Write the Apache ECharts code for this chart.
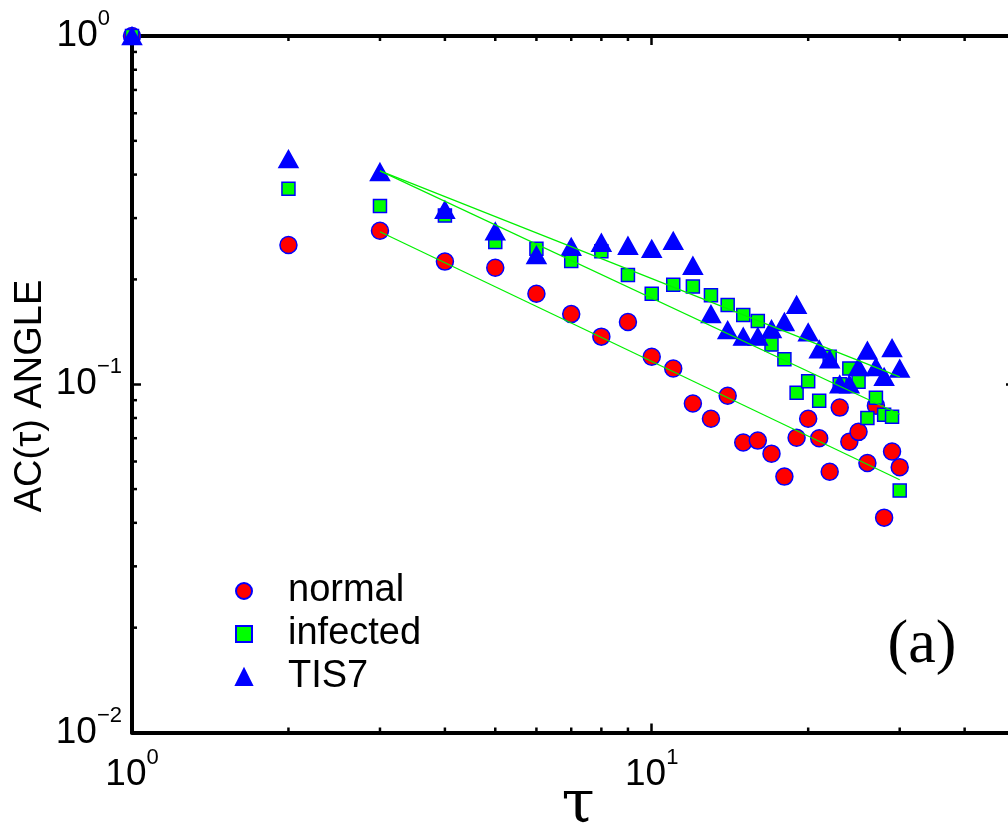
<!DOCTYPE html>
<html><head><meta charset="utf-8">
<script src="https://cdn.jsdelivr.net/npm/echarts@6/dist/echarts.min.js"></script>
<style>html,body{margin:0;padding:0;background:#fff}#c{width:1008px;height:828px}</style>
</head><body><div id="c"></div>
<script>
// ---- data ----
const tau = [1,2,3,4,5,6,7,8,9,10,11,12,13,14,15,16,17,18,19,20,21,22,23,24,25,26,27,28,29,30];
const normal = [1.0,0.251,0.276,0.225,0.216,0.182,0.159,0.137,0.151,0.120,0.111,0.088,0.0796,0.0927,0.068,0.0689,0.0632,0.0543,0.0702,0.0796,0.070,0.0561,0.0857,0.0684,0.073,0.0594,0.0868,0.0414,0.0641,0.0578];
const infected = [1.0,0.364,0.325,0.305,0.256,0.245,0.226,0.241,0.206,0.182,0.193,0.191,0.180,0.169,0.158,0.152,0.130,0.118,0.0946,0.102,0.0897,0.120,0.100,0.111,0.1016,0.080,0.0914,0.0818,0.0807,0.0495];
const tis7 = [1.0,0.443,0.407,0.317,0.275,0.235,0.248,0.255,0.250,0.245,0.258,0.219,0.159,0.143,0.137,0.137,0.144,0.151,0.169,0.141,0.126,0.118,0.100,0.100,0.112,0.125,0.112,0.105,0.127,0.111];
const fitTau = [3, 30];
const fitNormal = [0.274, 0.0532];
const fitInfected = [0.41, 0.082];
const fitTis7 = [0.41, 0.105];
const xMinorTicks = [2,3,4,5,6,7,8,9,20,30,40];
const yMinorTicks = [0.02,0.03,0.04,0.05,0.06,0.07,0.08,0.09,0.2,0.3,0.4,0.5,0.6,0.7,0.8,0.9];
const xRange = [1, 50];
const yRange = [0.01, 1];
const seriesNames = ['normal', 'infected', 'TIS7'];

// ---- chart ----
const SANS = 'Liberation Sans, Arial, Helvetica, sans-serif';
const pair = (xs, ys) => xs.map((x, i) => [x, ys[i]]);
function powLabel(v, padPositive) {
  const l = Math.log10(v), e = Math.round(l);
  if (Math.abs(l - e) > 1e-6) return '';
  const exp = e < 0 ? '\u2212' + (-e) : String(e);
  return '{b|10}{e|' + exp + '}' + (padPositive && e >= 0 ? '{p|}' : '');
}
const rich = {
  b: { fontSize: 37, lineHeight: 56, fontFamily: SANS, color: '#000' },
  e: { fontSize: 22, lineHeight: 22, fontFamily: SANS, color: '#000', verticalAlign: 'top' },
  p: { width: 12, lineHeight: 22 }
};
const axisLine = { show: true, onZero: false, lineStyle: { color: '#000', width: 4 } };
const majorTick = { show: true, inside: true, length: 9, lineStyle: { color: '#000', width: 2.5 } };

const chart = echarts.init(document.getElementById('c'), null, { renderer: 'canvas' });
const markerBorder = { borderColor: '#0000ff', borderWidth: 1.5, opacity: 1 };
chart.setOption({
  animation: false,
  backgroundColor: '#fff',
  grid: { left: 132, width: 883, top: 36, bottom: 95.5, containLabel: false, outerBoundsMode: 'none' },
  xAxis: [
    { type: 'log', logBase: 10, min: xRange[0], max: xRange[1], position: 'bottom',
      axisLine, axisTick: majorTick, splitLine: { show: false }, minorTick: { show: false },
      axisLabel: { formatter: v => powLabel(v, false), rich, margin: 14 } },
    { type: 'log', logBase: 10, min: xRange[0], max: xRange[1], position: 'top',
      axisLine, axisTick: majorTick, splitLine: { show: false }, axisLabel: { show: false } }
  ],
  yAxis: [
    { type: 'log', logBase: 10, min: yRange[0], max: yRange[1], position: 'left',
      axisLine, axisTick: majorTick, splitLine: { show: false },
      axisLabel: { formatter: v => powLabel(v, true), rich, margin: 10 } },
    { type: 'log', logBase: 10, min: yRange[0], max: yRange[1], position: 'right',
      axisLine, axisTick: majorTick, splitLine: { show: false }, axisLabel: { show: false } }
  ],
  legend: {
    data: seriesNames, orient: 'vertical', left: 230, top: 566,
    itemWidth: 16, itemHeight: 16, itemGap: 3,
    formatter: name => '{s|}{t|' + name + '}',
    textStyle: { fontSize: 38, fontFamily: SANS, color: '#000', lineHeight: 40,
      rich: { s: { width: 31 }, t: { fontSize: 38, fontFamily: SANS, color: '#000', lineHeight: 40 } } }
  },
  series: [
    { name: 'normal', type: 'scatter', data: pair(tau, normal), symbol: 'circle', symbolSize: 17,
      itemStyle: Object.assign({ color: '#ff0000' }, markerBorder), clip: false, z: 3 },
    { name: 'infected', type: 'scatter', data: pair(tau, infected), symbol: 'rect', symbolSize: 13,
      itemStyle: Object.assign({ color: '#00ff00' }, markerBorder), clip: false, z: 4 },
    { name: 'TIS7', type: 'scatter', data: pair(tau, tis7), symbol: 'triangle', symbolSize: [19, 17],
      itemStyle: Object.assign({ color: '#0000ff' }, markerBorder), clip: false, z: 5 },
    ...[fitNormal, fitInfected, fitTis7].map((f, i) => ({
      name: 'fit' + i, type: 'line', data: pair(fitTau, f), symbol: 'none', z: 6,
      lineStyle: { color: '#00f000', width: 1.2 }, clip: false
    })),
    { name: 'xminor', type: 'custom', data: xMinorTicks.map(v => [v, yRange[0]]), z: 2, clip: false,
      encode: { x: 0, y: 1 }, silent: true,
      renderItem: (params, api) => {
        const v = api.value(0);
        const pb = api.coord([v, yRange[0]]), pt = api.coord([v, yRange[1]]);
        const st = { stroke: '#000', lineWidth: 2.5 };
        return { type: 'group', children: [
          { type: 'line', shape: { x1: pb[0], y1: pb[1], x2: pb[0], y2: pb[1] - 5 }, style: st },
          { type: 'line', shape: { x1: pt[0], y1: pt[1], x2: pt[0], y2: pt[1] + 5 }, style: st }
        ] };
      } },
    { name: 'yminor', type: 'custom', data: yMinorTicks.map(v => [xRange[0], v]), z: 2, clip: false,
      encode: { x: 0, y: 1 }, silent: true,
      renderItem: (params, api) => {
        const v = api.value(1);
        const pl = api.coord([xRange[0], v]), pr = api.coord([xRange[1], v]);
        const st = { stroke: '#000', lineWidth: 2.5 };
        return { type: 'group', children: [
          { type: 'line', shape: { x1: pl[0], y1: pl[1], x2: pl[0] + 5, y2: pl[1] }, style: st },
          { type: 'line', shape: { x1: pr[0], y1: pr[1], x2: pr[0] - 5, y2: pr[1] }, style: st }
        ] };
      } }
  ],
  graphic: [
    { type: 'text', x: 31, y: 396, rotation: Math.PI / 2,
      style: { text: 'AC(\u03c4) ANGLE', font: '38px ' + SANS, fill: '#000', textAlign: 'center', textVerticalAlign: 'middle' } },
    { type: 'text', x: 578, y: 806,
      style: { text: '\u03c4', font: '60px "DejaVu Serif", serif', fill: '#000', textAlign: 'center', textVerticalAlign: 'middle' } },
    { type: 'text', x: 922, y: 646,
      style: { text: '(a)', font: '62px "Liberation Serif", serif', fill: '#000', textAlign: 'center', textVerticalAlign: 'middle' } }
  ]
});
</script></body></html>
